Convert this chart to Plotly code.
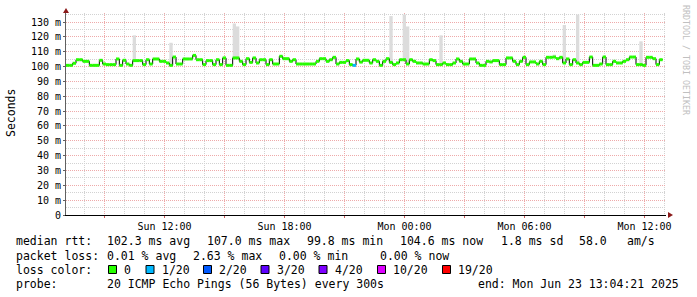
import plotly.graph_objects as go
from datetime import datetime, timedelta

# ---------------- data ----------------
START = datetime(2025, 6, 22, 7, 4, 21)
END = datetime(2025, 6, 23, 13, 4, 21)
STEP_MIN = 10

# median rtt (ms), one value per 10-minute step
median_ms = [
    100.8, 100.8, 102.2, 104.6, 104.6, 103.5, 103.5, 100.8, 100.8, 100.8,
    104.2, 101.7, 101.3, 101.3, 101.3, 105.1, 100.8, 104.2, 101.7, 100.8,
    104.0, 104.0, 104.0, 101.3, 104.6, 101.7, 105.1, 105.1, 103.5, 103.5,
    102.4, 100.8, 106.4, 101.7, 101.7, 105.1, 105.1, 105.1, 107.5, 104.6,
    104.6, 101.3, 104.0, 104.0, 101.3, 104.6, 101.3, 105.8, 100.8, 100.8,
    105.8, 105.8, 103.5, 101.3, 105.3, 102.8, 105.8, 102.4, 104.6, 104.6,
    101.3, 104.6, 101.7, 101.7, 106.9, 105.3, 105.3, 103.5, 104.6, 101.7,
    101.7, 101.7, 101.7, 101.7, 101.7, 103.5, 105.3, 105.3, 103.5, 104.6,
    106.2, 101.7, 102.8, 102.8, 104.0, 101.3, 100.8, 105.1, 103.0, 104.2,
    104.2, 102.4, 104.6, 103.5, 100.8, 103.5, 105.3, 102.8, 101.3, 102.4,
    104.6, 104.6, 101.7, 104.6, 103.5, 102.4, 102.4, 101.7, 101.7, 104.6,
    104.0, 101.3, 101.3, 102.4, 101.3, 101.3, 102.4, 105.1, 103.5, 101.7,
    101.7, 105.1, 105.1, 102.4, 100.8, 100.8, 103.5, 103.1, 104.0, 104.0,
    101.3, 101.3, 105.8, 105.8, 103.5, 101.3, 103.5, 106.2, 101.3, 103.1,
    103.1, 101.7, 103.5, 101.3, 106.2, 106.2, 106.4, 105.3, 106.2, 102.4,
    105.1, 101.3, 104.6, 102.4, 101.3, 102.8, 102.8, 106.4, 100.8, 100.8,
    101.7, 106.4, 101.3, 101.3, 103.5, 102.4, 102.4, 103.5, 104.6, 106.4,
    106.4, 101.3, 101.3, 100.8, 106.2, 106.2, 105.3, 101.3, 104.6, None,
]

# packet loss events: step index -> lost pings (of 20)
loss_step = [86]
loss_count = [1]

# smoke (max ping) spikes: step index -> top of smoke (ms)
smoke_step = [20, 31, 50, 51, 97, 101, 102, 112, 146, 149, 153, 172]
smoke_top = [121, 116, 129, 127, 134, 135, 127, 121, 108, 128, 135, 117]

y_tick_values = [0, 10, 20, 30, 40, 50, 60, 70, 80, 90, 100, 110, 120, 130]
y_tick_labels = ["0", "10 m", "20 m", "30 m", "40 m", "50 m", "60 m", "70 m",
                 "80 m", "90 m", "100 m", "110 m", "120 m", "130 m"]
x_major_times = ["2025-06-22 09:00", "2025-06-22 12:00", "2025-06-22 15:00",
                 "2025-06-22 18:00", "2025-06-22 21:00", "2025-06-23 00:00",
                 "2025-06-23 03:00", "2025-06-23 06:00", "2025-06-23 09:00",
                 "2025-06-23 12:00"]
x_major_labels = ["", "Sun 12:00", "", "Sun 18:00", "", "Mon 00:00",
                  "", "Mon 06:00", "", "Mon 12:00"]

loss_legend_labels = ["0", "1/20", "2/20", "3/20", "4/20", "10/20", "19/20"]
loss_legend_colors = ["#26ff00", "#00b8ff", "#0059ff", "#5e00ff", "#7e00ff",
                      "#dd00ff", "#ff0000"]
loss_legend_min = [0, 1, 2, 3, 4, 10, 19]

stat_rtt = ["102.3 ms avg", "107.0 ms max", "99.8 ms min", "104.6 ms now",
            "1.8 ms sd", "58.0", "am/s"]
stat_loss = ["0.01 % avg", "2.63 % max", "0.00 % min", "0.00 % now"]
probe_text = "20 ICMP Echo Pings (56 Bytes) every 300s"
end_text = "end: Mon Jun 23 13:04:21 2025"

# ---------------- layout geometry ----------------
W, H = 697, 297
PL, PR, PT, PB = 66, 666, 13, 215
Y_MAX = (PB - PT) / ((PB - 22) / 130.0)

def px_x(px):
    return (px - PL) / (PR - PL)

def px_y(py):
    return (PB - py) / (PB - PT)

MONO = "DejaVu Sans Mono"

def loss_color(n):
    c = loss_legend_colors[0]
    for thr, col in zip(loss_legend_min, loss_legend_colors):
        if n >= thr:
            c = col
    return c

step = timedelta(minutes=STEP_MIN)
times = [START + step * i for i in range(len(median_ms) + 1)]
valid = [i for i, v in enumerate(median_ms) if v is not None]

fig = go.Figure()

# smoke
fig.add_trace(go.Bar(
    x=[times[i] + step / 2 for i in smoke_step],
    y=[t - median_ms[i] for i, t in zip(smoke_step, smoke_top)],
    base=[median_ms[i] for i in smoke_step],
    width=STEP_MIN * 60 * 1000,
    marker=dict(color="#dcdcdc", line=dict(width=0)),
    hoverinfo="skip",
))

# black step line (transitions)
xs = [times[i] for i in valid] + [times[valid[-1] + 1]]
ys = [median_ms[i] for i in valid] + [median_ms[valid[-1]]]
fig.add_trace(go.Scatter(x=xs, y=ys, mode="lines",
                         line=dict(color="black", width=1, shape="hv"),
                         hoverinfo="skip"))

# coloured horizontal segments per loss colour
loss_map = dict(zip(loss_step, loss_count))
segs = {}
for i in valid:
    col = loss_color(loss_map.get(i, 0))
    sx, sy = segs.setdefault(col, ([], []))
    sx += [times[i], times[i + 1], None]
    sy += [median_ms[i], median_ms[i], None]
for col, (sx, sy) in segs.items():
    fig.add_trace(go.Scatter(x=sx, y=sy, mode="lines",
                             line=dict(color=col, width=3),
                             hoverinfo="skip", connectgaps=False))

RED_GRID = "#eeaaaa"
GREY_GRID = "#d2d2d2"
hourly = [START.replace(minute=0, second=0) + timedelta(hours=h) for h in range(1, 31)]

fig.update_xaxes(
    type="date", range=[START, END],
    tickmode="array", tickvals=x_major_times, ticktext=x_major_labels,
    showgrid=True, gridcolor=RED_GRID, griddash="1px,1px", gridwidth=1,
    minor=dict(tickmode="array", tickvals=hourly, showgrid=True,
               gridcolor=GREY_GRID, griddash="1px,1px", gridwidth=1),
    showline=True, linecolor="black", linewidth=1,
    ticks="outside", ticklen=2, tickcolor="#d06060",
    tickfont=dict(family=MONO, size=10, color="black"),
    zeroline=False, automargin=False, fixedrange=True,
)
fig.update_yaxes(
    range=[0, Y_MAX],
    tickmode="array", tickvals=y_tick_values, ticktext=y_tick_labels,
    showgrid=True, gridcolor=RED_GRID, griddash="1px,1px", gridwidth=1,
    minor=dict(tickmode="array", tickvals=[v + 5 for v in y_tick_values],
               showgrid=True, gridcolor=GREY_GRID, griddash="1px,1px", gridwidth=1),
    showline=True, linecolor="#606060", linewidth=1,
    ticks="outside", ticklen=2, tickcolor="#606060",
    tickfont=dict(family=MONO, size=10, color="black"),
    zeroline=False, automargin=False, fixedrange=True,
)

annotations = []

def txt(px, py, s, size=11.5, color="black", angle=0, xanchor="left"):
    annotations.append(dict(
        x=px_x(px), y=px_y(py), xref="paper", yref="paper", text=s,
        showarrow=False, xanchor=xanchor, yanchor="middle", textangle=angle,
        borderpad=0, borderwidth=0,
        font=dict(family=MONO, size=size, color=color)))

# axis title & watermark
txt(11, 113, "Seconds", xanchor="center", angle=-90)
txt(686, 60, "RRDTOOL / TOBI OETIKER", size=8.3, color="#c0c0c0",
    xanchor="center", angle=90)

# legend line 1
txt(16, 241.5, "median rtt:")
for px, s in zip([107, 207, 306.5, 400, 500.5, 579, 627], stat_rtt):
    txt(px, 241.5, s)
# legend line 2
txt(16, 255.5, "packet loss:")
for px, s in zip([107, 193, 279, 380], stat_loss):
    txt(px, 255.5, s)
# legend line 3
txt(16, 269.5, "loss color:")
shapes = []
box_x = [108.5, 146, 203.5, 261, 319, 377.5, 442.5]
for bx, lab, col in zip(box_x, loss_legend_labels, loss_legend_colors):
    shapes.append(dict(type="rect", xref="paper", yref="paper",
                       x0=px_x(bx), x1=px_x(bx + 8), y0=px_y(273.5), y1=px_y(265.5),
                       fillcolor=col, line=dict(color="black", width=1)))
    txt(bx + 15.5, 269.5, lab)
# legend line 4
txt(16, 283.5, "probe:")
txt(107, 283.5, probe_text)
txt(478, 283.5, end_text)

# axis arrows
ARROW = "#8b1a1a"
shapes.append(dict(type="path", xref="paper", yref="paper",
                   path=f"M {px_x(63)},{px_y(13)} L {px_x(66)},{px_y(8)} L {px_x(69)},{px_y(13)} Z",
                   fillcolor=ARROW, line=dict(color=ARROW, width=0)))
shapes.append(dict(type="path", xref="paper", yref="paper",
                   path=f"M {px_x(668)},{px_y(212)} L {px_x(673)},{px_y(215)} L {px_x(668)},{px_y(218)} Z",
                   fillcolor=ARROW, line=dict(color=ARROW, width=0)))

fig.update_layout(
    width=W, height=H,
    margin=dict(l=PL, r=W - PR, t=PT, b=H - PB, pad=0),
    paper_bgcolor="white", plot_bgcolor="white",
    showlegend=False, barmode="overlay",
    annotations=annotations, shapes=shapes,
)

fig.write_html("out.html")
